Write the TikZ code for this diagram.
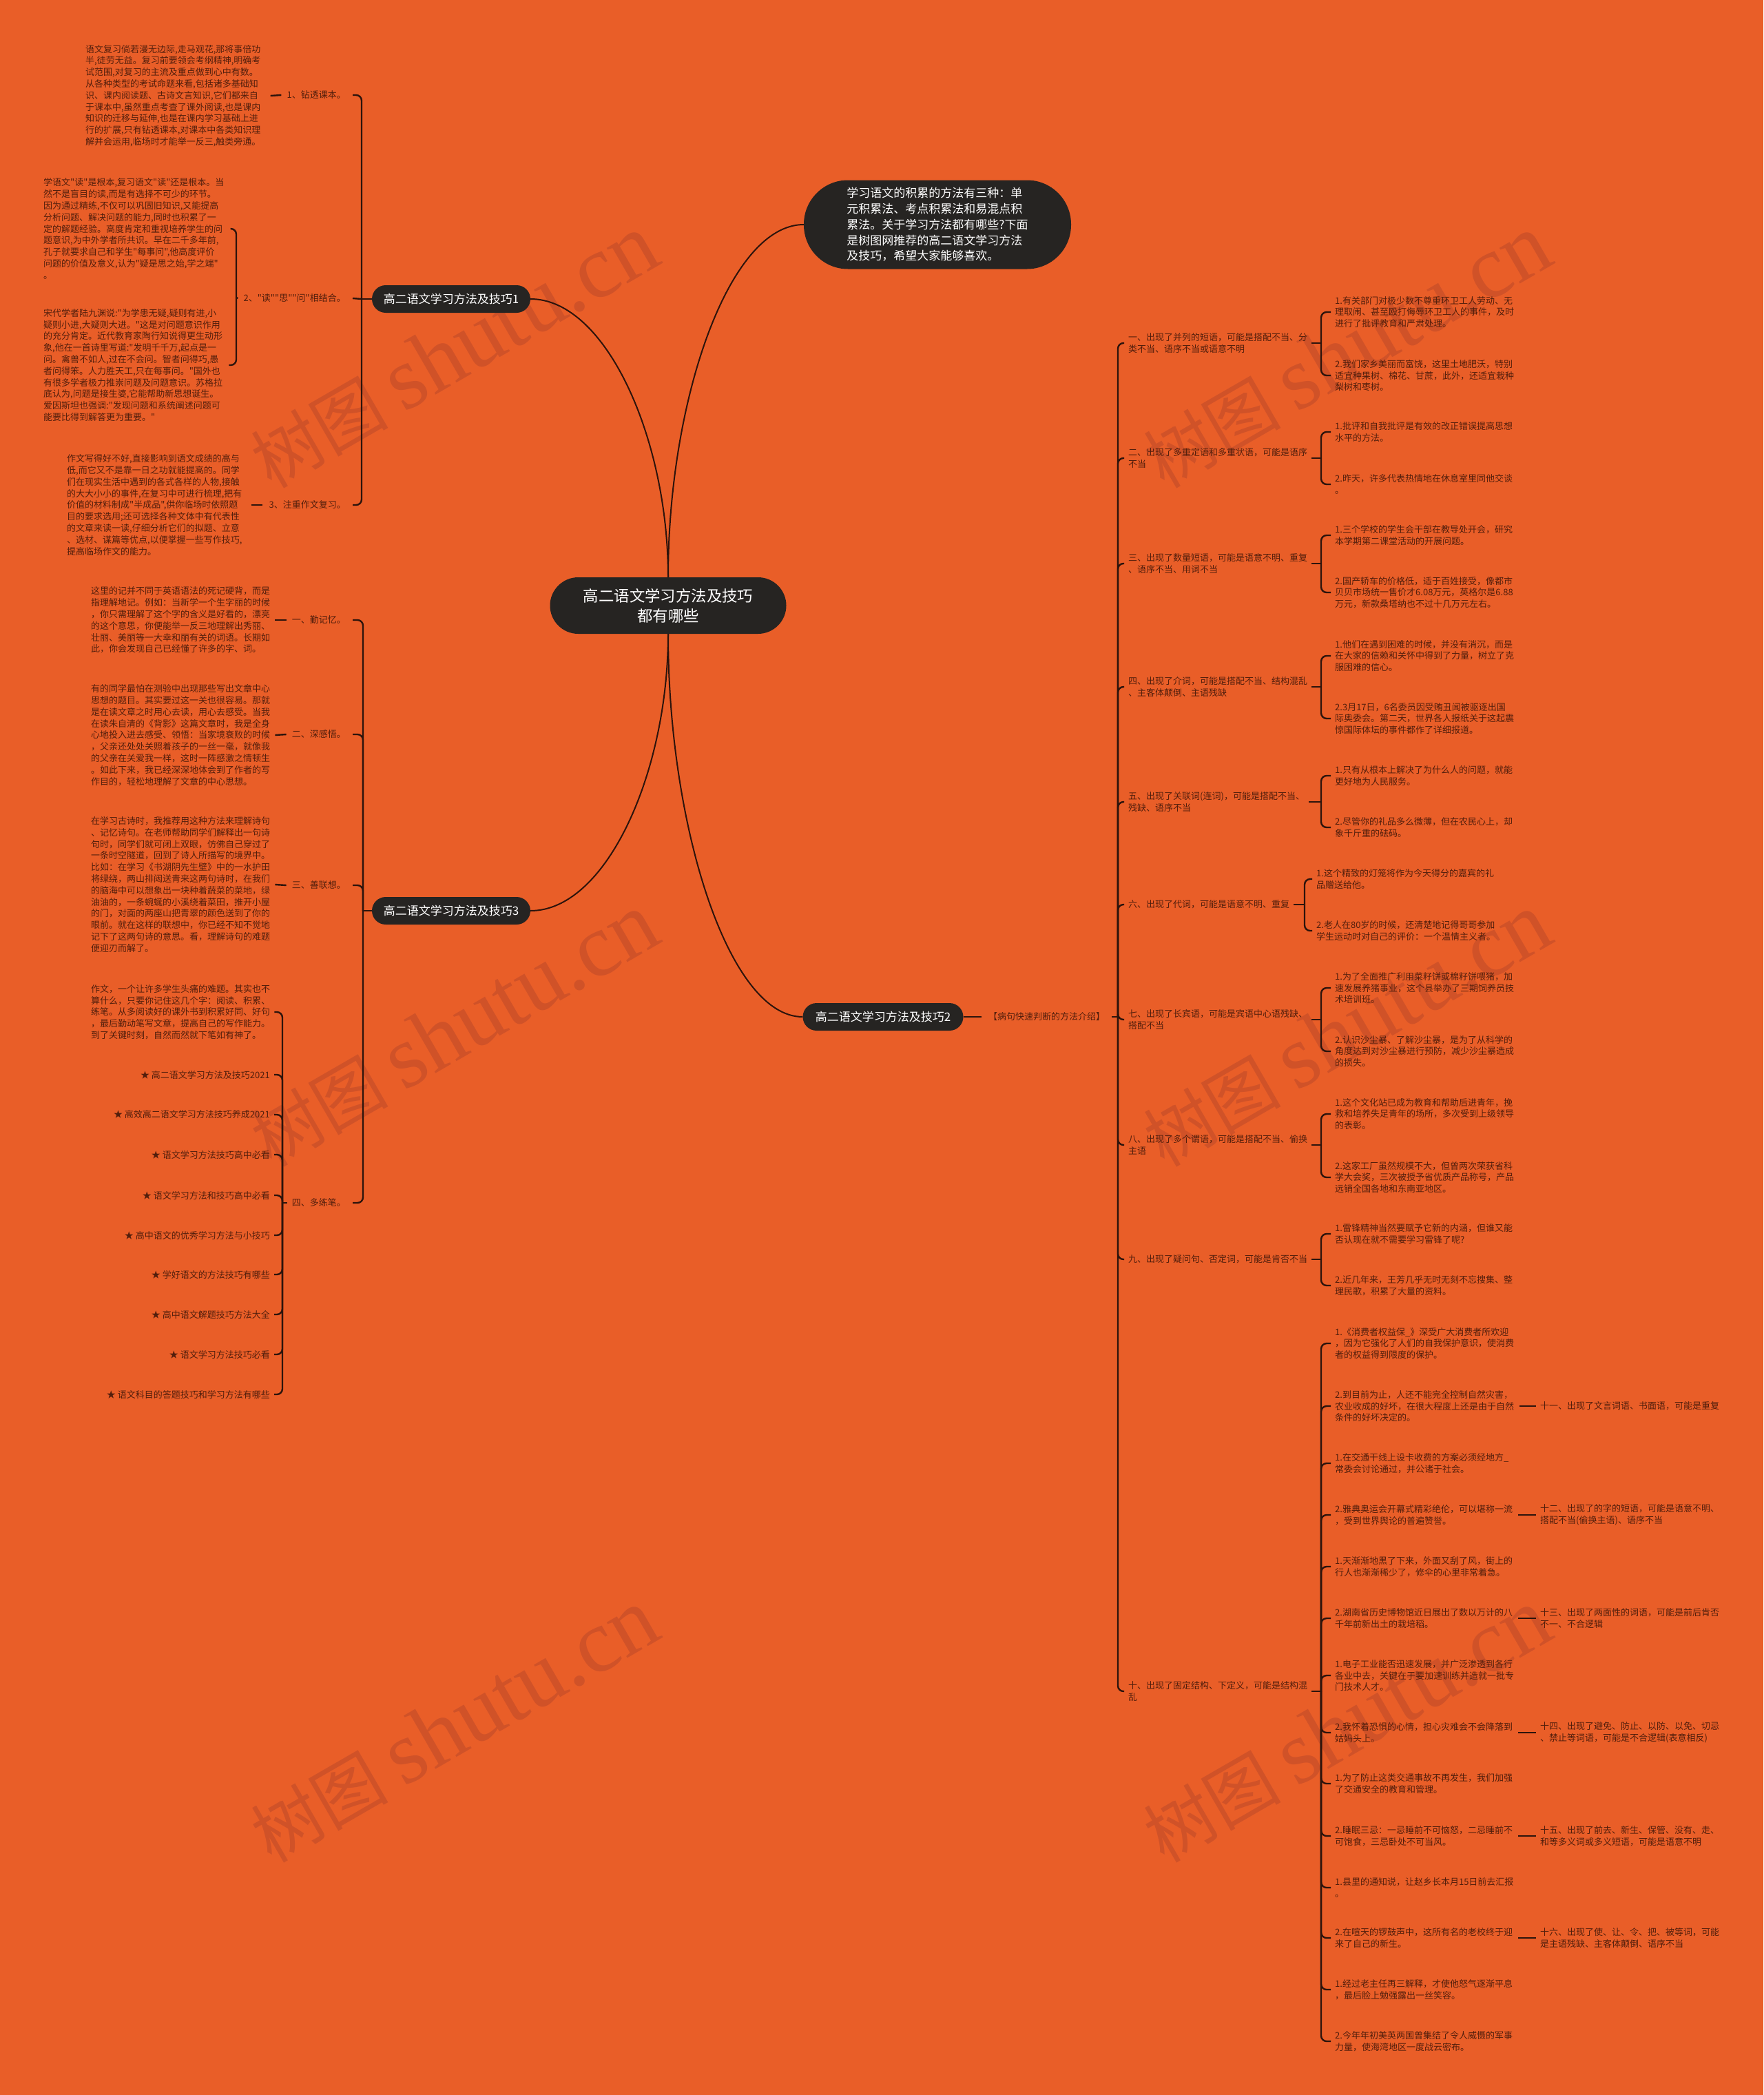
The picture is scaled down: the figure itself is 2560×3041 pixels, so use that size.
\documentclass[tikz,border=0pt]{standalone}
\usepackage{fontspec}
\setmainfont{Noto Sans CJK SC}
\newfontfamily\cjkf{Noto Sans CJK SC}
\newfontfamily\wmserif{Liberation Serif}
\definecolor{bg}{RGB}{233,94,40}
\definecolor{wm}{RGB}{208,82,40}
\definecolor{txt}{RGB}{82,30,12}
\definecolor{lc}{RGB}{45,20,12}
\definecolor{nodefill}{RGB}{38,36,34}
\newcommand\fsS{\cjkf\fontsize{13}{16.8}\selectfont}
\newcommand\wmtext{{\cjkf\fontsize{100}{100}\selectfont 树图}\hspace{22pt}{\wmserif\fontsize{130}{130}\selectfont shutu.cn}}
\begin{document}
\begin{tikzpicture}[x=1pt,y=-1pt,
  para/.style={anchor=west,align=left,inner sep=0pt,font=\fsS,text=txt},
  lab/.style={anchor=east,align=right,inner sep=0pt,font=\fsS,text=txt},
  labw/.style={anchor=west,align=left,inner sep=0pt,font=\fsS,text=txt},
  br/.style={draw=lc,line width=2.4pt,rounded corners=8pt},
  curv/.style={draw=lc,line width=2pt},
  dark/.style={fill=nodefill,text=white,inner sep=0pt},
  wmk/.style={text=wm,rotate=30,inner sep=0pt}]
\useasboundingbox (0,0) rectangle (2560,3041);
\fill[bg] (0,0) rectangle (2560,3041);
% watermarks
\node[wmk] (w1) at (659,510) {\wmtext};
\node[wmk] (w2) at (659,1495) {\wmtext};
\node[wmk] (w3) at (659,2505) {\wmtext};
\node[wmk] (w4) at (1955,510) {\wmtext};
\node[wmk] (w5) at (1955,1495) {\wmtext};
\node[wmk] (w6) at (1955,2505) {\wmtext};

% central nodes
\node[dark,minimum width=343pt,minimum height=82pt,rounded corners=41pt,align=center,font=\cjkf\fontsize{22.4}{29}\selectfont] (ctr) at (970,879) {高二语文学习方法及技巧\\都有哪些};
\node[dark,minimum width=388pt,minimum height=129pt,rounded corners=64pt,align=left,font=\cjkf\fontsize{17}{22.7}\selectfont] (bub) at (1361,326) {学习语文的积累的方法有三种：单\\元积累法、考点积累法和易混点积\\累法。关于学习方法都有哪些?下面\\是树图网推荐的高二语文学习方法\\及技巧，希望大家能够喜欢。};
\node[dark,minimum width=230pt,minimum height=40pt,rounded corners=20pt,font=\cjkf\fontsize{17}{20}\selectfont] (b1) at (655,434) {高二语文学习方法及技巧1};
\node[dark,minimum width=230pt,minimum height=40pt,rounded corners=20pt,font=\cjkf\fontsize{17}{20}\selectfont] (b3) at (655,1322) {高二语文学习方法及技巧3};
\node[dark,minimum width=233pt,minimum height=40pt,rounded corners=20pt,font=\cjkf\fontsize{17}{20}\selectfont] (b2) at (1282,1476) {高二语文学习方法及技巧2};

\draw[curv] (ctr.north) .. controls +(0,-256) and +(-109,0) .. (bub.west);
\draw[curv] (ctr.north) .. controls +(0,-202) and +(109,0) .. (b1.east);
\draw[curv] (ctr.south) .. controls +(0,201) and +(110,0) .. (b3.east);
\draw[curv] (ctr.south) .. controls +(0,278) and +(-108,0) .. (b2.west);

% ---------- branch 1 ----------
\node[para] (p1) at (124,139) {语文复习倘若漫无边际,走马观花,那将事倍功\\半,徒劳无益。复习前要领会考纲精神,明确考\\试范围,对复习的主流及重点做到心中有数。\\从各种类型的考试命题来看,包括诸多基础知\\识、课内阅读题、古诗文言知识,它们都来自\\于课本中,虽然重点考查了课外阅读,也是课内\\知识的迁移与延伸,也是在课内学习基础上进\\行的扩展,只有钻透课本,对课本中各类知识理\\解并会运用,临场时才能举一反三,触类旁通。};
\node[para] (p2) at (63,332) {学语文"读"是根本,复习语文"读"还是根本。当\\然不是盲目的读,而是有选择不可少的环节。\\因为通过精练,不仅可以巩固旧知识,又能提高\\分析问题、解决问题的能力,同时也积累了一\\定的解题经验。高度肯定和重视培养学生的问\\题意识,为中外学者所共识。早在二千多年前,\\孔子就要求自己和学生"每事问",他高度评价\\问题的价值及意义,认为"疑是思之始,学之端"\\。};
\node[para] (p3) at (63,530) {宋代学者陆九渊说:"为学患无疑,疑则有进,小\\疑则小进,大疑则大进。"这是对问题意识作用\\的充分肯定。近代教育家陶行知说得更生动形\\象,他在一首诗里写道:"发明千千万,起点是一\\问。禽兽不如人,过在不会问。智者问得巧,愚\\者问得笨。人力胜天工,只在每事问。"国外也\\有很多学者极力推崇问题及问题意识。苏格拉\\底认为,问题是接生婆,它能帮助新思想诞生。\\爱因斯坦也强调:"发现问题和系统阐述问题可\\能要比得到解答更为重要。"};
\node[para] (p4) at (97,733) {作文写得好不好,直接影响到语文成绩的高与\\低,而它又不是靠一日之功就能提高的。同学\\们在现实生活中遇到的各式各样的人物,接触\\的大大小小的事件,在复习中可进行梳理,把有\\价值的材料制成"半成品",供你临场时依照题\\目的要求选用;还可选择各种文体中有代表性\\的文章来读一读,仔细分析它们的拟题、立意\\、选材、谋篇等优点,以便掌握一些写作技巧,\\提高临场作文的能力。};
\node[lab] (l1) at (502,138) {1、钻透课本。};
\node[lab] (l2) at (502,433) {2、"读""思""问"相结合。};
\node[lab] (l3) at (502,733) {3、注重作文复习。};
\coordinate (v1) at (525,434);
\coordinate (j2) at (343,432);
\draw[br] (b1.west) -- (v1);
\draw[br] (v1) |- ([xshift=10pt]l1.east);
\draw[br] (v1) |- ([xshift=10pt]l3.east);
\draw[br] (v1) -- ([xshift=10pt]l2.east);
\draw[br] ([xshift=14pt]p1.east) -- ([xshift=-8pt]l1.west);
\draw[br] (j2) -- ([xshift=-8pt]l2.west);
\draw[br] (j2) |- ([xshift=9pt]p2.east);
\draw[br] (j2) |- ([xshift=9pt]p3.east);
\draw[br] ([xshift=13pt]p4.east) -- ([xshift=-9pt]l3.west);

% ---------- branch 3 ----------
\node[para] (p5) at (132,900) {这里的记并不同于英语语法的死记硬背，而是\\指理解地记。例如：当新学一个生字丽的时候\\，你只需理解了这个字的含义是好看的，漂亮\\的这个意思，你便能举一反三地理解出秀丽、\\壮丽、美丽等一大幸和丽有关的词语。长期如\\此，你会发现自己已经懂了许多的字、词。};
\node[para] (p6) at (132,1067) {有的同学最怕在测验中出现那些写出文章中心\\思想的题目。其实要过这一关也很容易。那就\\是在读文章之时用心去读，用心去感受。当我\\在读朱自清的《背影》这篇文章时，我是全身\\心地投入进去感受、领悟：当家境衰败的时候\\，父亲还处处关照着孩子的一丝一毫，就像我\\的父亲在关爱我一样，这时一阵感激之情顿生\\。如此下来，我已经深深地体会到了作者的写\\作目的，轻松地理解了文章的中心思想。};
\node[para] (p7) at (132,1284) {在学习古诗时，我推荐用这种方法来理解诗句\\、记忆诗句。在老师帮助同学们解释出一句诗\\句时，同学们就可闭上双眼，仿佛自己穿过了\\一条时空隧道，回到了诗人所描写的境界中。\\比如：在学习《书湖阴先生壁》中的一水护田\\将绿绕，两山排闼送青来这两句诗时，在我们\\的脑海中可以想象出一块种着蔬菜的菜地，绿\\油油的，一条蜿蜒的小溪绕着菜田，推开小屋\\的门，对面的两座山把青翠的颜色送到了你的\\眼前。就在这样的联想中，你已经不知不觉地\\记下了这两句诗的意思。看，理解诗句的难题\\便迎刃而解了。};
\node[para] (p8) at (132,1469) {作文，一个让许多学生头痛的难题。其实也不\\算什么，只要你记住这几个字：阅读、积累、\\练笔。从多阅读好的课外书到积累好同、好句\\，最后勤动笔写文章，提高自己的写作能力。\\到了关键时刻，自然而然就下笔如有神了。};
\node[lab] (k1) at (392,1560) {★ 高二语文学习方法及技巧2021};
\node[lab] (k2) at (392,1618) {★ 高效高二语文学习方法技巧养成2021};
\node[lab] (k3) at (392,1676) {★ 语文学习方法技巧高中必看};
\node[lab] (k4) at (392,1735) {★ 语文学习方法和技巧高中必看};
\node[lab] (k5) at (392,1793) {★ 高中语文的优秀学习方法与小技巧};
\node[lab] (k6) at (392,1850) {★ 学好语文的方法技巧有哪些};
\node[lab] (k7) at (392,1908) {★ 高中语文解题技巧方法大全};
\node[lab] (k8) at (392,1966) {★ 语文学习方法技巧必看};
\node[lab] (k9) at (392,2024) {★ 语文科目的答题技巧和学习方法有哪些};
\node[lab] (l5) at (502,900) {一、勤记忆。};
\node[lab] (l6) at (502,1066) {二、深感悟。};
\node[lab] (l7) at (502,1285) {三、善联想。};
\node[lab] (l8) at (502,1746) {四、多练笔。};
\coordinate (v3) at (527,1322);
\coordinate (j8) at (410,1746);
\draw[br] (b3.west) -- (v3);
\foreach \n in {l5,l6,l7,l8} \draw[br] (v3) |- ([xshift=10pt]\n.east);
\draw[br] ([xshift=7pt]p5.east) -- ([xshift=-8pt]l5.west);
\draw[br] ([xshift=7pt]p6.east) -- ([xshift=-8pt]l6.west);
\draw[br] ([xshift=7pt]p7.east) -- ([xshift=-8pt]l7.west);
\draw[br] (j8) -- ([xshift=-7pt]l8.west);
\draw[br] (j8) |- ([xshift=6pt]p8.east);
\foreach \n in {k1,k2,k3,k4,k5,k6,k7,k8,k9} \draw[br] (j8) |- ([xshift=6pt]\n.east);

% ---------- branch 2 ----------
\node[labw] (g) at (1435,1476) {【病句快速判断的方法介绍】};
\coordinate (v2) at (1623,1476);
\draw[br] (b2.east) -- ([xshift=-10pt]g.west);
\draw[br] ([xshift=10pt]g.east) -- (v2);

\node[labw] (c1) at (1638,498) {一、出现了并列的短语，可能是搭配不当、分\\类不当、语序不当或语意不明};
\node[labw] (c2) at (1638,665) {二、出现了多重定语和多重状语，可能是语序\\不当};
\node[labw] (c3) at (1638,818) {三、出现了数量短语，可能是语意不明、重复\\、语序不当、用词不当};
\node[labw] (c4) at (1638,997) {四、出现了介词，可能是搭配不当、结构混乱\\、主客体颠倒、主语残缺};
\node[labw] (c5) at (1638,1164) {五、出现了关联词(连词)，可能是搭配不当、\\残缺、语序不当};
\node[labw] (c6) at (1638,1313) {六、出现了代词，可能是语意不明、重复};
\node[labw] (c7) at (1638,1480) {七、出现了长宾语，可能是宾语中心语残缺、\\搭配不当};
\node[labw] (c8) at (1638,1662) {八、出现了多个谓语，可能是搭配不当、偷换\\主语};
\node[labw] (c9) at (1638,1828) {九、出现了疑问句、否定词，可能是肯否不当};
\node[labw] (c10) at (1638,2455) {十、出现了固定结构、下定义，可能是结构混\\乱};
\foreach \n in {c1,c2,c3,c4,c5,c6,c7,c8,c9,c10} \draw[br] (v2) |- ([xshift=-6pt]\n.west);

\node[labw] (i1a) at (1938,453) {1.有关部门对极少数不尊重环卫工人劳动、无\\理取闹、甚至殴打侮辱环卫工人的事件，及时\\进行了批评教育和严肃处理。};
\node[labw] (i1b) at (1938,545) {2.我们家乡美丽而富饶，这里土地肥沃，特别\\适宜种果树、棉花、甘蔗，此外，还适宜栽种\\梨树和枣树。};
\node[labw] (i2a) at (1938,627) {1.批评和自我批评是有效的改正错误提高思想\\水平的方法。};
\node[labw] (i2b) at (1938,703) {2.昨天，许多代表热情地在休息室里同他交谈\\。};
\node[labw] (i3a) at (1938,777) {1.三个学校的学生会干部在教导处开会，研究\\本学期第二课堂活动的开展问题。};
\node[labw] (i3b) at (1938,860) {2.国产轿车的价格低，适于百姓接受，像都市\\贝贝市场统一售价才6.08万元，英格尔是6.88\\万元，新款桑塔纳也不过十几万元左右。};
\node[labw] (i4a) at (1938,952) {1.他们在遇到困难的时候，并没有消沉，而是\\在大家的信赖和关怀中得到了力量，树立了克\\服困难的信心。};
\node[labw] (i4b) at (1938,1043) {2.3月17日，6名委员因受贿丑闻被驱逐出国\\际奥委会。第二天，世界各人报纸关于这起震\\惊国际体坛的事件都作了详细报道。};
\node[labw] (i5a) at (1938,1126) {1.只有从根本上解决了为什么人的问题，就能\\更好地为人民服务。};
\node[labw] (i5b) at (1938,1201) {2.尽管你的礼品多么微薄，但在农民心上，却\\象千斤重的砝码。};
\node[labw] (i6a) at (1911,1276) {1.这个精致的灯笼将作为今天得分的嘉宾的礼\\品赠送给他。};
\node[labw] (i6b) at (1911,1351) {2.老人在80岁的时候，还清楚地记得哥哥参加\\学生运动时对自己的评价：一个温情主义者。};
\node[labw] (i7a) at (1938,1434) {1.为了全面推广利用菜籽饼或棉籽饼喂猪，加\\速发展养猪事业，这个县举办了三期饲养员技\\术培训班。};
\node[labw] (i7b) at (1938,1526) {2.认识沙尘暴、了解沙尘暴，是为了从科学的\\角度达到对沙尘暴进行预防，减少沙尘暴造成\\的损失。};
\node[labw] (i8a) at (1938,1617) {1.这个文化站已成为教育和帮助后进青年，挽\\救和培养失足青年的场所，多次受到上级领导\\的表彰。};
\node[labw] (i8b) at (1938,1709) {2.这家工厂虽然规模不大，但曾两次荣获省科\\学大会奖，三次被授予省优质产品称号，产品\\远销全国各地和东南亚地区。};
\node[labw] (i9a) at (1938,1791) {1.雷锋精神当然要赋予它新的内涵，但谁又能\\否认现在就不需要学习雷锋了呢?};
\node[labw] (i9b) at (1938,1866) {2.近几年来，王芳几乎无时无刻不忘搜集、整\\理民歌，积累了大量的资料。};

\coordinate (jc1) at (1918,498);
\coordinate (jc2) at (1918,665);
\coordinate (jc3) at (1918,818);
\coordinate (jc4) at (1918,997);
\coordinate (jc5) at (1918,1164);
\coordinate (jc6) at (1894,1313);
\coordinate (jc7) at (1918,1480);
\coordinate (jc8) at (1918,1662);
\coordinate (jc9) at (1918,1828);
\coordinate (jc10) at (1918,2455);
\foreach \c/\a/\b in {1/i1a/i1b,2/i2a/i2b,3/i3a/i3b,4/i4a/i4b,5/i5a/i5b,6/i6a/i6b,7/i7a/i7b,8/i8a/i8b,9/i9a/i9b}{
  \draw[br] ([xshift=6pt]c\c.east) -- (jc\c);
  \draw[br] (jc\c) |- ([xshift=-6pt]\a.west);
  \draw[br] (jc\c) |- ([xshift=-6pt]\b.west);
}

\node[labw] (t1) at (1938,1950) {1.《消费者权益保\_》深受广大消费者所欢迎\\，因为它强化了人们的自我保护意识，使消费\\者的权益得到限度的保护。};
\node[labw] (t2) at (1938,2041) {2.到目前为止，人还不能完全控制自然灾害，\\农业收成的好坏，在很大程度上还是由于自然\\条件的好坏决定的。};
\node[labw] (t3) at (1938,2124) {1.在交通干线上设卡收费的方案必须经地方\_\\常委会讨论通过，并公诸于社会。};
\node[labw] (t4) at (1938,2199) {2.雅典奥运会开幕式精彩绝伦，可以堪称一流\\，受到世界舆论的普遍赞誉。};
\node[labw] (t5) at (1938,2274) {1.天渐渐地黑了下来，外面又刮了风，街上的\\行人也渐渐稀少了，修伞的心里非常着急。};
\node[labw] (t6) at (1938,2349) {2.湖南省历史博物馆近日展出了数以万计的八\\千年前新出土的栽培稻。};
\node[labw] (t7) at (1938,2432) {1.电子工业能否迅速发展，并广泛渗透到各行\\各业中去，关键在于要加速训练并造就一批专\\门技术人才。};
\node[labw] (t8) at (1938,2515) {2.我怀着恐惧的心情，担心灾难会不会降落到\\姑妈头上。};
\node[labw] (t9) at (1938,2589) {1.为了防止这类交通事故不再发生，我们加强\\了交通安全的教育和管理。};
\node[labw] (t10) at (1938,2665) {2.睡眠三忌：一忌睡前不可恼怒，二忌睡前不\\可饱食，三忌卧处不可当风。};
\node[labw] (t11) at (1938,2740) {1.县里的通知说，让赵乡长本月15日前去汇报\\。};
\node[labw] (t12) at (1938,2813) {2.在喧天的锣鼓声中，这所有名的老校终于迎\\来了自己的新生。};
\node[labw] (t13) at (1938,2888) {1.经过老主任再三解释，才使他怒气逐渐平息\\，最后脸上勉强露出一丝笑容。};
\node[labw] (t14) at (1938,2963) {2.今年年初美英两国曾集结了令人威慑的军事\\力量，使海湾地区一度战云密布。};
\draw[br] ([xshift=6pt]c10.east) -- (jc10);
\foreach \n in {t1,t2,t3,t4,t5,t6,t7,t8,t9,t10,t11,t12,t13,t14} \draw[br] (jc10) |- ([xshift=-6pt]\n.west);

\node[labw] (m11) at (2236,2041) {十一、出现了文言词语、书面语，可能是重复};
\node[labw] (m12) at (2236,2199) {十二、出现了的字的短语，可能是语意不明、\\搭配不当(偷换主语)、语序不当};
\node[labw] (m13) at (2236,2349) {十三、出现了两面性的词语，可能是前后肯否\\不一、不合逻辑};
\node[labw] (m14) at (2236,2515) {十四、出现了避免、防止、以防、以免、切忌\\、禁止等词语，可能是不合逻辑(表意相反)};
\node[labw] (m15) at (2236,2665) {十五、出现了前去、新生、保管、没有、走、\\和等多义词或多义短语，可能是语意不明};
\node[labw] (m16) at (2236,2813) {十六、出现了使、让、令、把、被等词，可能\\是主语残缺、主客体颠倒、语序不当};
\foreach \a/\b in {t2/m11,t4/m12,t6/m13,t8/m14,t10/m15,t12/m16} \draw[br] ([xshift=8pt]\a.east) -- ([xshift=-6pt]\b.west);
\end{tikzpicture}
\end{document}
